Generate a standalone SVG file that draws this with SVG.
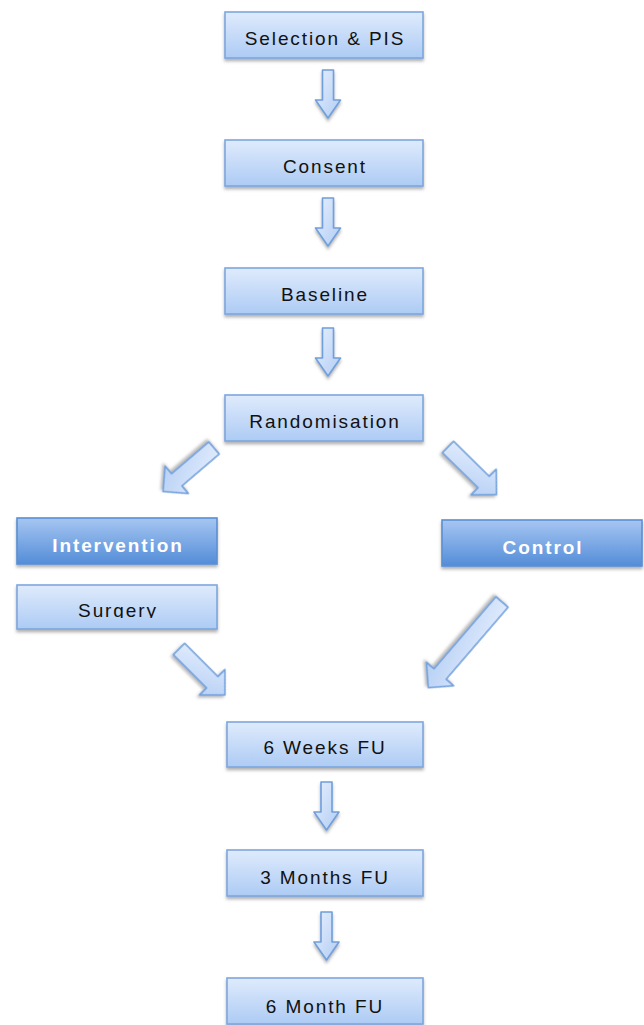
<svg xmlns="http://www.w3.org/2000/svg" width="644" height="1025" viewBox="0 0 644 1025">
<defs>
<linearGradient id="gLight" x1="0" y1="0" x2="0" y2="1">
<stop offset="0" stop-color="#dfebfc"/>
<stop offset="1" stop-color="#adcbf4"/>
</linearGradient>
<linearGradient id="gDark" x1="0" y1="0" x2="0" y2="1">
<stop offset="0" stop-color="#a6c6f2"/>
<stop offset="1" stop-color="#548dd8"/>
</linearGradient>
<linearGradient id="gArrow" x1="0" y1="0" x2="1" y2="1">
<stop offset="0" stop-color="#e6effd"/>
<stop offset="1" stop-color="#b2cdf4"/>
</linearGradient>
<filter id="sh" x="-10%" y="-20%" width="120%" height="150%">
<feDropShadow dx="0" dy="2.5" stdDeviation="1.8" flood-color="#555" flood-opacity="0.45"/>
</filter>
<clipPath id="surgClip"><rect x="17" y="585" width="200" height="33"/></clipPath>
<path id="down" d="M-5.5,0 L5.5,0 L5.5,30 L12.5,30 L0,48 L-12.5,30 L-5.5,30 Z"/>
</defs>
<style>
.box{fill:url(#gLight);stroke:#7ea7df;stroke-width:1.6;filter:url(#sh)}
.dbox{fill:url(#gDark);stroke:#5a8fd4;stroke-width:1.6;filter:url(#sh)}
.t{font-family:"Liberation Sans",Arial,sans-serif;font-size:19px;letter-spacing:1.9px;fill:#111111;text-anchor:middle}
.tw{font-family:"Liberation Sans",Arial,sans-serif;font-size:19px;font-weight:bold;letter-spacing:1.9px;fill:#ffffff;text-anchor:middle}
.arr{fill:url(#gArrow);stroke:#6f9fdc;stroke-width:1.6;stroke-linejoin:round;filter:url(#sh)}
</style>
<rect width="644" height="1025" fill="#ffffff"/>
<g id="connectors">
<use href="#down" class="arr" x="328" y="70"/>
<use href="#down" class="arr" x="328" y="198"/>
<use href="#down" class="arr" x="328" y="328"/>
<use href="#down" class="arr" x="326.5" y="782"/>
<use href="#down" class="arr" x="326.5" y="912"/>
<path class="arr" transform="translate(214,448) rotate(139.5)" d="M0,-8 L49,-8 L49,-18 L67,0 L49,18 L49,8 L0,8 Z"/>
<path class="arr" transform="translate(448,447) rotate(44.5)" d="M0,-8 L50,-8 L50,-18 L68,0 L50,18 L50,8 L0,8 Z"/>
<path class="arr" transform="translate(179,649) rotate(45)" d="M0,-8 L47,-8 L47,-18 L65,0 L47,18 L47,8 L0,8 Z"/>
<path class="arr" transform="translate(502,602) rotate(130.7)" d="M0,-8 L95,-8 L95,-18 L113,0 L95,18 L95,8 L0,8 Z"/>
</g>
<g id="selection"><rect class="box" x="225" y="12" width="198" height="46"/><text class="t" x="325" y="45">Selection &amp; PIS</text></g>
<g id="consent"><rect class="box" x="225" y="140" width="198" height="46"/><text class="t" x="325" y="173">Consent</text></g>
<g id="baseline"><rect class="box" x="225" y="268" width="198" height="46"/><text class="t" x="325" y="301">Baseline</text></g>
<g id="randomisation"><rect class="box" x="225" y="395" width="198" height="46"/><text class="t" x="325" y="428">Randomisation</text></g>
<g id="intervention"><rect class="dbox" x="17" y="518" width="200" height="46"/><text class="tw" x="118" y="552">Intervention</text></g>
<g id="surgery"><rect class="box" x="17" y="585" width="200" height="44"/><text class="t" x="118" y="617" clip-path="url(#surgClip)">Surgery</text></g>
<g id="control"><rect class="dbox" x="442" y="520" width="200" height="46"/><text class="tw" x="543" y="554">Control</text></g>
<g id="weeks6"><rect class="box" x="227" y="722" width="196" height="45"/><text class="t" x="325" y="754">6 Weeks FU</text></g>
<g id="months3"><rect class="box" x="227" y="850" width="196" height="46"/><text class="t" x="325" y="884">3 Months FU</text></g>
<g id="month6"><rect class="box" x="227" y="978" width="196" height="46"/><text class="t" x="325" y="1013">6 Month FU</text></g>
</svg>
